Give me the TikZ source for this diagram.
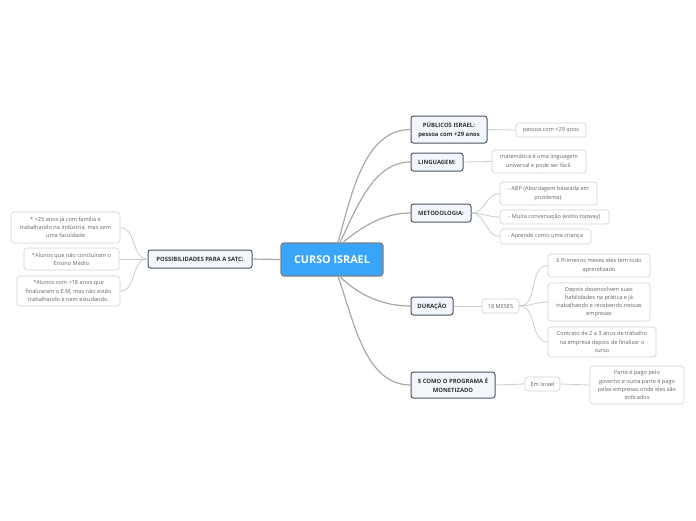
\documentclass[tikz,border=0pt]{standalone}
\usepackage{fontspec}
\setmainfont{Open Sans}
\usetikzlibrary{calc}
\definecolor{cblue}{HTML}{38A5FA}
\definecolor{cborder}{HTML}{808080}
\definecolor{tborder}{HTML}{4A5563}
\definecolor{tfill}{HTML}{F3F6FA}
\definecolor{ttext}{HTML}{333333}
\definecolor{lborder}{HTML}{D0D0D0}
\definecolor{ltext}{HTML}{666666}
\definecolor{mline}{HTML}{A8A8A8}
\definecolor{sline}{HTML}{CCCCCC}
\tikzset{
  central/.style={draw=cborder, fill=cblue, line width=1.2pt, rounded corners=3pt,
    text=white, font=\fontsize{10.8}{12}\selectfont\bfseries, minimum width=102pt, minimum height=33pt, inner sep=0pt},
  topic/.style={draw=tborder, fill=tfill, line width=1pt, rounded corners=2.5pt,
    text=ttext, font=\fontsize{5.9}{9}\selectfont\bfseries, align=center, inner sep=0pt},
  leaf/.style={draw=lborder, fill=white, line width=0.6pt, rounded corners=3pt,
    text=ltext, font=\fontsize{5.6}{8.2}\selectfont, align=center, inner sep=0pt},
  mainline/.style={draw=mline, line width=1.2pt},
  subline/.style={draw=sline, line width=0.8pt},
}
\begin{document}
\begin{tikzpicture}[x=1pt,y=-1pt]
\useasboundingbox (0,0) rectangle (696,520);
% central
\node[central] (c) at (332,259.5) {CURSO ISRAEL};
% topics
\node[topic, minimum width=104pt, minimum height=18pt] (s) at (200,259) {POSSIBILIDADES PARA A SATC:};
\node[topic, minimum width=76pt, minimum height=27pt] (p) at (449,129.5) {PÚBLICOS ISRAEL:\\pessoa com +29 anos};
\node[topic, minimum width=52pt, minimum height=18pt] (l) at (437,162) {LINGUAGEM:};
\node[topic, minimum width=60pt, minimum height=18pt] (m) at (441,213) {METODOLOGIA:};
\node[topic, minimum width=42pt, minimum height=18pt] (d) at (432,306) {DURAÇÃO};
\node[topic, minimum width=84pt, minimum height=26pt] (mo) at (453,385) {\$ COMO O PROGRAMA É\\MONETIZADO};
% left leaves
\node[leaf, minimum width=109pt, minimum height=31pt] (s1) at (65.5,227.5) {* +25 anos já com família e\\trabalhando na indústria, mas sem\\uma faculdade};
\node[leaf, minimum width=95pt, minimum height=22pt] (s2) at (71.5,259) {*Alunos que não concluíram o\\Ensino Médio};
\node[leaf, minimum width=103pt, minimum height=30pt] (s3) at (68.5,291) {*Alunos com +18 anos que\\finalizaram o E.M, mas não estão\\trabalhando e nem estudando.};
% right leaves
\node[leaf, minimum width=70pt, minimum height=14pt] (p1) at (551,130) {pessoa com +29 anos};
\node[leaf, minimum width=94pt, minimum height=23pt] (l1) at (539,161.5) {matemática é uma linguagem\\universal e pode ser fácil.};
\node[leaf, minimum width=97pt, minimum height=23pt] (m1) at (548.5,193.5) {- ABP (Abordagem baseada em\\problema).};
\node[leaf, minimum width=109pt, minimum height=14pt] (m2) at (554.5,217) {- Muita conversação (estilo topway)};
\node[leaf, minimum width=91pt, minimum height=15pt] (m3) at (545.5,236.5) {- Aprende como uma criança};
\node[leaf, minimum width=37pt, minimum height=14pt] (d1) at (500.5,306) {18 MESES};
\node[leaf, minimum width=102pt, minimum height=23pt] (d11) at (599,265.5) {6 Primeiros meses eles tem todo\\aprendizado};
\node[leaf, minimum width=102pt, minimum height=38pt] (d12) at (599,302) {Depois desenvolvem suas\\habilidades na prática e já\\trabalhando e recebendo nessas\\empresas};
\node[leaf, minimum width=108pt, minimum height=30pt] (d13) at (602,342) {Contrato de 2 a 3 anos de trabalho\\na empresa depois de finalizar o\\curso};
\node[leaf, minimum width=35pt, minimum height=14pt] (mo1) at (542.5,384) {Em Israel};
\node[leaf, minimum width=94pt, minimum height=38pt] (mo11) at (637,385) {Parte é pago pelo\\governo e outra parte é pago\\pelas empresas onde eles são\\indicados};
% connector anchors
\coordinate (ct) at ($(c.north)+(6,0)$);
\coordinate (cb) at ($(c.south)+(6,0)$);
% main connectors
\draw[mainline] (c.west) -- (s.east);
\draw[mainline] (ct) to[out=74,in=180,looseness=0.9] (p.west);
\draw[mainline] ($(ct)+(2,0)$) to[out=64,in=180,looseness=0.9] (l.west);
\draw[mainline] ($(ct)+(5,0)$) to[out=40,in=180,looseness=0.9] (m.west);
\draw[mainline] ($(cb)+(2,0)$) to[out=-45,in=180,looseness=0.9] (d.west);
\draw[mainline] (cb) to[out=-70,in=180,looseness=0.9] (mo.west);
% sub connectors
\draw[subline] (s.west) to[out=180,in=0] (s1.east);
\draw[subline] (s.west) -- (s2.east);
\draw[subline] (s.west) to[out=180,in=0] (s3.east);
\draw[subline] (p.east) -- (p1.west);
\draw[subline] (l.east) -- (l1.west);
\draw[subline] (m.east) to[out=0,in=180] (m1.west);
\draw[subline] (m.east) to[out=0,in=180] (m2.west);
\draw[subline] (m.east) to[out=0,in=180] (m3.west);
\draw[subline] (d.east) -- (d1.west);
\draw[subline] (d1.east) to[out=0,in=180] (d11.west);
\draw[subline] (d1.east) to[out=0,in=180] (d12.west);
\draw[subline] (d1.east) to[out=0,in=180] (d13.west);
\draw[subline] (mo.east) -- (mo1.west);
\draw[subline] (mo1.east) -- (mo11.west);
\end{tikzpicture}
\end{document}
